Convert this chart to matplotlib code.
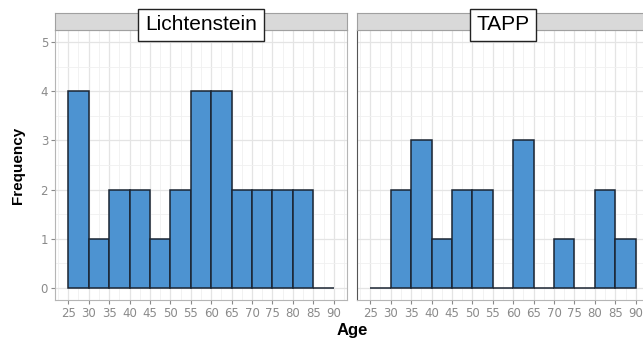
import numpy as np
import matplotlib.pyplot as plt
from matplotlib.ticker import MultipleLocator

bin_edges = [25, 30, 35, 40, 45, 50, 55, 60, 65, 70, 75, 80, 85, 90]
panels = ["Lichtenstein", "TAPP"]
lichtenstein_counts = [4, 1, 2, 2, 1, 2, 4, 4, 2, 2, 2, 2, 0]
tapp_counts = [0, 2, 3, 1, 2, 2, 0, 3, 0, 1, 0, 2, 1]
x_ticks = list(range(25, 95, 5))
y_ticks = [0, 1, 2, 3, 4, 5]

fig = plt.figure(figsize=(6.43, 3.38), dpi=100)
W, H = 643, 338

def px_axes(x0, y0, x1, y1):
    return fig.add_axes([x0 / W, 1 - y1 / H, (x1 - x0) / W, (y1 - y0) / H])

fill = "#4d93d1"
edge = "#1b2533"
tick_col = "#8a8a8a"

lefts = [55, 357]
for k, (name, counts) in enumerate(zip(panels, [lichtenstein_counts, tapp_counts])):
    x0 = lefts[k]
    ax = px_axes(x0, 30, x0 + 292, 300)
    ax.set_facecolor("white")
    ax.bar(bin_edges[:-1], counts, width=5, align="edge", color=fill,
           edgecolor=edge, linewidth=1.1, zorder=3)
    ax.set_xlim(21.75, 93.25)
    ax.set_ylim(-0.25, 5.25)
    ax.set_xticks(x_ticks)
    ax.set_yticks(y_ticks)
    ax.xaxis.set_minor_locator(MultipleLocator(2.5))
    ax.yaxis.set_minor_locator(MultipleLocator(0.5))
    ax.grid(which="major", color="#e4e4e4", linewidth=0.9, zorder=0)
    ax.grid(which="minor", color="#f0f0f0", linewidth=0.6, zorder=0)
    ax.tick_params(which="minor", length=0)
    ax.tick_params(which="major", colors=tick_col, labelsize=8.5, length=3,
                   width=0.8, pad=2)
    for s in ax.spines.values():
        s.set_color("#b5b5b5")
        s.set_linewidth(0.8)
    if k == 1:
        ax.set_yticklabels([])
        ax.tick_params(axis="y", length=0)
        ax.spines["left"].set_color("#555555")

    st = px_axes(x0, 13, x0 + 292, 30)
    st.set_facecolor("#d9d9d9")
    st.set_xticks([])
    st.set_yticks([])
    for s in st.spines.values():
        s.set_color("#a0a0a0")
        s.set_linewidth(0.8)
    st.text(0.5, 0.3, name, transform=st.transAxes, ha="center", va="center",
            fontsize=15, family="Liberation Sans", zorder=5,
            bbox=dict(boxstyle="square,pad=0.32", fc="white", ec="#222222", lw=1.0),
            clip_on=False)

fig.text(18 / W, 1 - 165 / H, "Frequency", rotation=90, ha="center", va="center",
         fontsize=11, fontweight="bold", family="Liberation Sans")
fig.text(352 / W, 1 - 330 / H, "Age", ha="center", va="center",
         fontsize=12, fontweight="bold", family="Liberation Sans")

fig.savefig("out.png", dpi=100)
